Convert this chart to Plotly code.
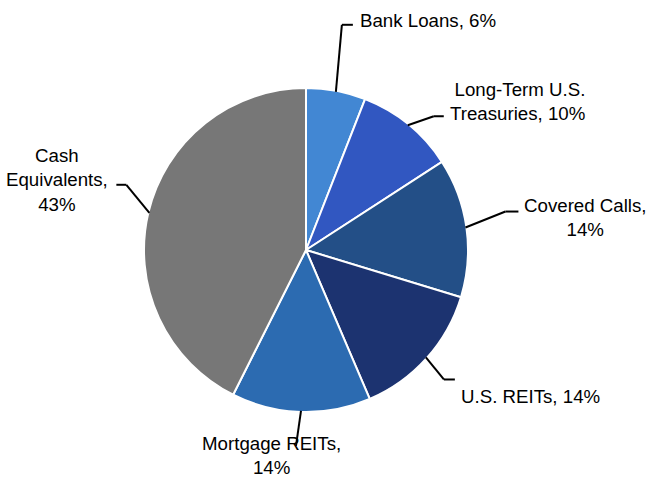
import math
import plotly.graph_objects as go

labels = ["Bank Loans", "Long-Term U.S. Treasuries", "Covered Calls", "U.S. REITs",
          "Mortgage REITs", "Cash Equivalents"]
values = [6, 10, 14, 14, 14, 43]
label_text = ["Bank Loans, 6%", "Long-Term U.S.<br>Treasuries, 10%", "Covered Calls,<br>14%",
              "U.S. REITs, 14%", "Mortgage REITs,<br>14%", "Cash<br>Equivalents,<br>43%"]
colors = ["#4287D3", "#3157C1", "#234F87", "#1C3370", "#2C6BB1", "#777777"]

W, H = 646, 479
cx, cy, R = 306, 250, 162

# leader-line layout (pixels): elbow offset from slice edge, horizontal tail, text offset, anchors
elbow_off = [(6, -67), (26, -9), (40, -16), (18, 22), (-5, 35), (-23, -28)]
tail = [11, 10, 13, 11, 0, -10]
txt_off = [(5, -4), (4, -15), (4, 6), (4, 17), (-24, 10), (-6, -5)]
anchors = ["left", "left", "left", "left", "center", "right"]
aligns = ["left", "right", "center", "left", "center", "center"]

def px(x, y):
    return x / W, 1 - y / H

fig = go.Figure(go.Pie(
    labels=labels, values=values, sort=False, direction="clockwise", rotation=0,
    marker=dict(colors=colors, line=dict(color="white", width=2)),
    textinfo="none", hoverinfo="label+value", showlegend=False,
    domain=dict(x=[(cx - R) / W, (cx + R) / W], y=[1 - (cy + R) / H, 1 - (cy - R) / H]),
))

total = sum(values)
cum = 0
shapes, annos = [], []
for i, v in enumerate(values):
    mid = (cum + v / 2) / total * 2 * math.pi
    cum += v
    sx, sy = math.sin(mid), -math.cos(mid)
    e = (cx + (R - 1) * sx, cy + (R - 1) * sy)
    b = (e[0] + elbow_off[i][0], e[1] + elbow_off[i][1])
    t = (b[0] + tail[i], b[1])
    for p, q in [(e, b), (b, t)]:
        if p == q:
            continue
        x0, y0 = px(*p)
        x1, y1 = px(*q)
        shapes.append(dict(type="line", xref="paper", yref="paper", x0=x0, y0=y0, x1=x1, y1=y1,
                           line=dict(color="black", width=2)))
    ax, ay = px(t[0] + txt_off[i][0], t[1] + txt_off[i][1])
    annos.append(dict(x=ax, y=ay, xref="paper", yref="paper", text=label_text[i], showarrow=False,
                      xanchor=anchors[i], yanchor="middle", align=aligns[i],
                      font=dict(size=18.7, color="black", family="Liberation Sans, Arial, sans-serif")))

fig.update_layout(width=W, height=H, margin=dict(l=0, r=0, t=0, b=0),
                  paper_bgcolor="white", plot_bgcolor="white",
                  shapes=shapes, annotations=annos)
fig.write_html("out.html", config={"displayModeBar": False},
               post_script="document.body.style.margin='0';document.body.style.overflow='hidden';")
